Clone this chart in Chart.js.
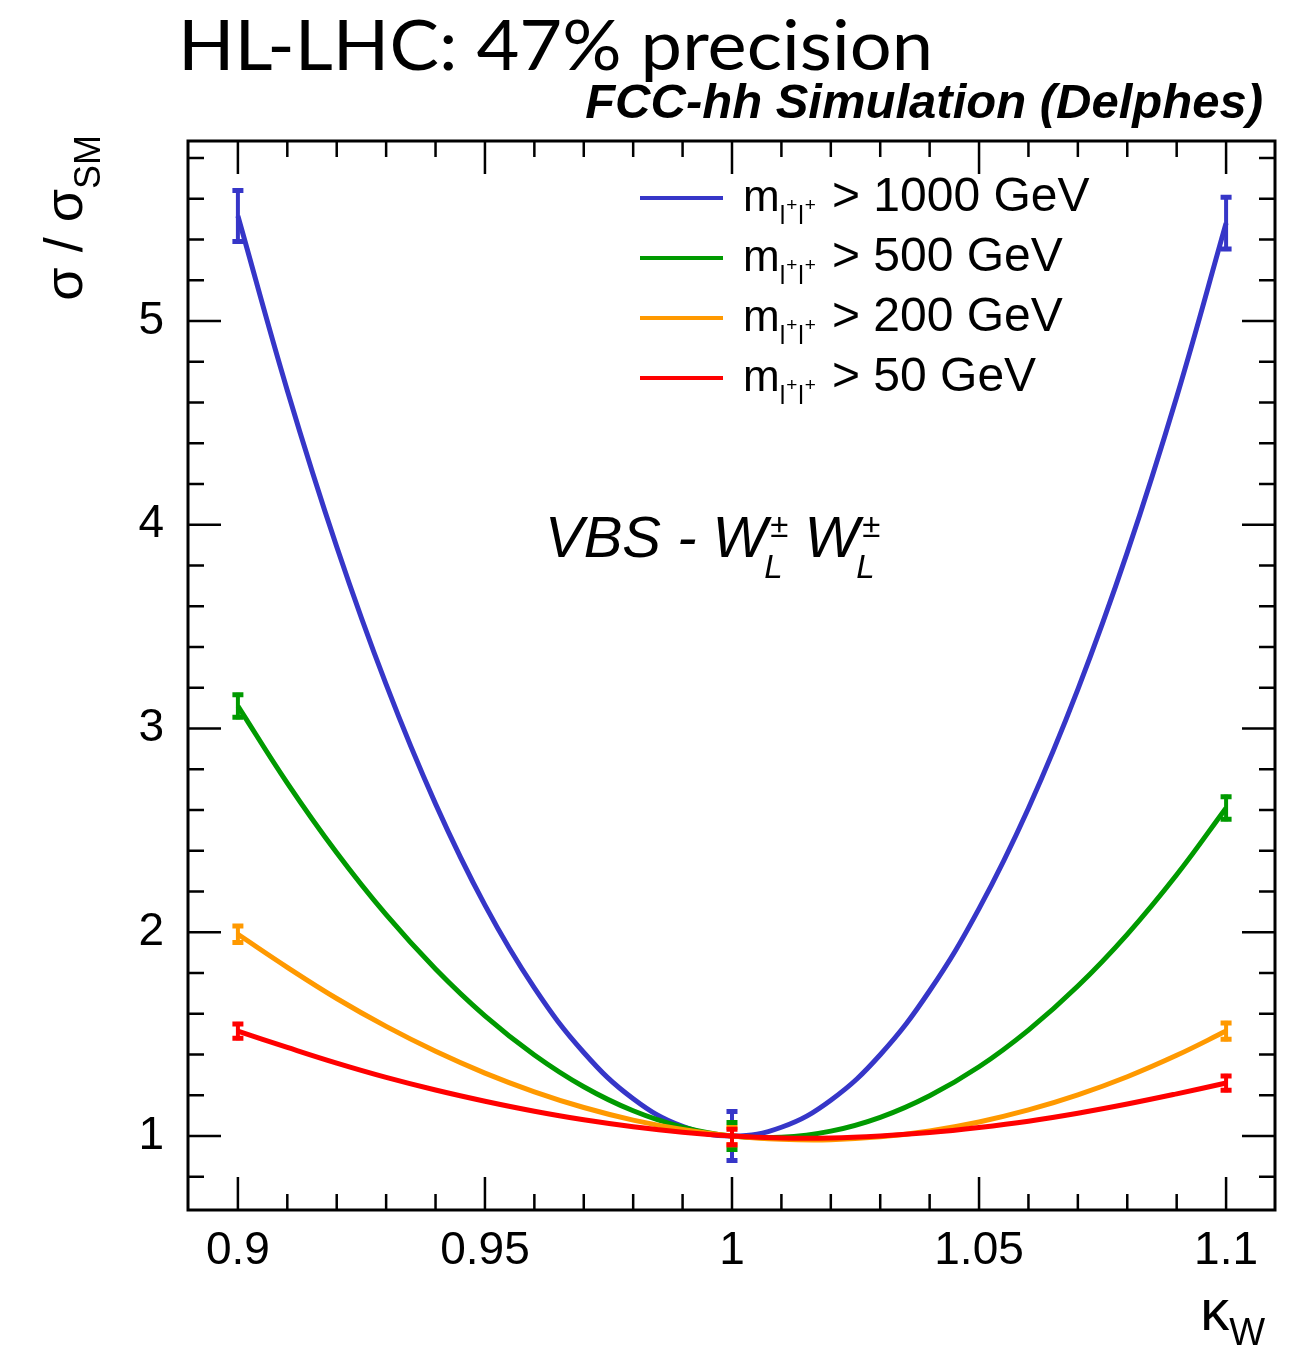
<!DOCTYPE html>
<html>
<head>
<meta charset="utf-8">
<script src="https://cdn.jsdelivr.net/npm/chart.js@4.4.0/dist/chart.umd.min.js"></script>
<style>
    html, body { margin: 0; padding: 0; background: #fff; }
    #wrap { width: 1296px; height: 1349px; }
</style>
</head>
<body>
<div id="wrap"><canvas id="kappaChart" width="1296" height="1349"></canvas></div>
<script>
// kappa_W sampling of the fitted curves
var kappaW = [0.90, 0.91, 0.92, 0.93, 0.94, 0.95, 0.96, 0.97, 0.98, 0.99, 1.00,
              1.01, 1.02, 1.03, 1.04, 1.05, 1.06, 1.07, 1.08, 1.09, 1.10];
var ratio1000 = [5.515, 4.659, 3.892, 3.216, 2.630, 2.133, 1.727, 1.410, 1.183, 1.047, 1.00,
                 1.043, 1.176, 1.399, 1.713, 2.116, 2.609, 3.192, 3.864, 4.627, 5.48];
var ratio500 = [3.11, 2.732, 2.390, 2.086, 1.820, 1.590, 1.398, 1.242, 1.124, 1.044, 1.00,
                0.994, 1.024, 1.092, 1.198, 1.340, 1.520, 1.736, 1.990, 2.282, 2.61];
var ratio200 = [1.99, 1.828, 1.675, 1.538, 1.416, 1.309, 1.217, 1.140, 1.078, 1.032, 1.00,
                0.984, 0.982, 0.996, 1.025, 1.069, 1.128, 1.202, 1.291, 1.396, 1.515];
var ratio50 = [1.515, 1.435, 1.358, 1.288, 1.226, 1.171, 1.122, 1.080, 1.046, 1.019, 1.00,
               0.990, 0.990, 1.000, 1.017, 1.042, 1.073, 1.112, 1.157, 1.207, 1.26];

// simulated points with uncertainties
var pointX = [0.9, 1.0, 1.1];
var point1000 = [5.515, 1.00, 5.48];
var unc1000 = [0.135, 0.13, 0.137];
var point500 = [3.11, 1.00, 2.61];
var unc500 = [0.065, 0.076, 0.065];
var point200 = [1.99, 1.00, 1.515];
var unc200 = [0.05, 0.052, 0.05];
var point50 = [1.515, 0.995, 1.26];
var unc50 = [0.045, 0.048, 0.045];

var xTickValues = [0.9, 0.95, 1.0, 1.05, 1.1];
var xTickLabels = ["0.9", "0.95", "1", "1.05", "1.1"];
var yTickValues = [1, 2, 3, 4, 5];
var yTickLabels = ["1", "2", "3", "4", "5"];

var legendCuts = ["> 1000 GeV", "> 500 GeV", "> 200 GeV", "> 50 GeV"];
var lineColors = ["#3636c8", "#009a00", "#ff9900", "#ff0000"];

var xMin = 0.8899, xMax = 1.1099;
var yMin = 0.637, yMax = 5.883;

var SANS = '"Liberation Sans", Arial, Helvetica, sans-serif';

function toPoints(ys) {
    return kappaW.map(function (k, i) { return { x: k, y: ys[i] }; });
}

function drawParts(ctx, parts, x, y, align) {
    var total = 0;
    parts.forEach(function (p) {
        ctx.font = p.font;
        p.w = ctx.measureText(p.t).width;
        total += p.w + (p.gap || 0);
    });
    var cx = align === "right" ? x - total : x;
    parts.forEach(function (p) {
        ctx.font = p.font;
        ctx.fillText(p.t, cx, y + (p.dy || 0));
        cx += p.w + (p.gap || 0);
    });
    return cx;
}

// W with stacked +- superscript and L subscript, returns the x after it
function drawWL(ctx, x, base) {
    var end = drawParts(ctx, [{ t: "W", font: "italic 58px " + SANS }], x, base, "left");
    ctx.font = "italic 33px " + SANS;
    ctx.fillText("\u00b1", end + 3, base - 20);
    ctx.fillText("L", end - 3, base + 21);
    return end + 3 + ctx.measureText("\u00b1").width;
}

var rootFrame = {
    id: "rootFrame",
    beforeDatasetsDraw: function (chart) {
        var ctx = chart.ctx, a = chart.chartArea;
        var x = chart.scales.x, y = chart.scales.y;
        ctx.save();
        ctx.strokeStyle = "#000";
        ctx.lineWidth = 2.5;
        ctx.beginPath();
        for (var i = 0; i <= 20; i++) {
            var px = x.getPixelForValue(0.9 + i * 0.01);
            var len = i % 5 === 0 ? 33 : 16;
            ctx.moveTo(px, a.bottom); ctx.lineTo(px, a.bottom - len);
            ctx.moveTo(px, a.top); ctx.lineTo(px, a.top + len);
        }
        for (var j = 4; j <= 29; j++) {
            var py = y.getPixelForValue(j * 0.2);
            var ylen = j % 5 === 0 ? 33 : 16;
            ctx.moveTo(a.left, py); ctx.lineTo(a.left + ylen, py);
            ctx.moveTo(a.right, py); ctx.lineTo(a.right - ylen, py);
        }
        ctx.stroke();
        ctx.lineWidth = 3;
        ctx.strokeRect(a.left, a.top, a.right - a.left, a.bottom - a.top);
        ctx.restore();
    },
    afterDatasetsDraw: function (chart) {
        var ctx = chart.ctx;
        var x = chart.scales.x, y = chart.scales.y;
        var sets = [[point1000, unc1000], [point500, unc500], [point200, unc200], [point50, unc50]];
        ctx.save();
        sets.forEach(function (s, n) {
            ctx.strokeStyle = lineColors[n];
            pointX.forEach(function (k, i) {
                var px = x.getPixelForValue(k);
                var top = y.getPixelForValue(s[0][i] + s[1][i]);
                var bot = y.getPixelForValue(s[0][i] - s[1][i]);
                ctx.lineWidth = 4;
                ctx.beginPath();
                ctx.moveTo(px, top); ctx.lineTo(px, bot);
                ctx.stroke();
                ctx.lineWidth = 5;
                ctx.beginPath();
                ctx.moveTo(px - 5.5, top + 2); ctx.lineTo(px + 5.5, top + 2);
                ctx.moveTo(px - 5.5, bot - 2); ctx.lineTo(px + 5.5, bot - 2);
                ctx.stroke();
            });
        });
        ctx.restore();
    },
    afterDraw: function (chart) {
        var ctx = chart.ctx;
        ctx.save();
        ctx.fillStyle = "#000";
        ctx.textBaseline = "alphabetic";

        // big title, squeezed to the width of the original
        var title = "HL-LHC: 47% precision";
        ctx.font = '69px Lato, "Open Sans", sans-serif';
        var tw = ctx.measureText(title).width;
        ctx.save();
        ctx.translate(178, 70);
        ctx.scale(755 / tw, 1);
        ctx.fillText(title, 0, 0);
        ctx.restore();

        ctx.font = "bold italic 49px " + SANS;
        ctx.textAlign = "right";
        ctx.fillText("FCC-hh Simulation (Delphes)", 1263, 118);
        ctx.textAlign = "left";

        // legend
        legendCuts.forEach(function (cut, i) {
            var ly = 198 + i * 60;
            ctx.strokeStyle = lineColors[i];
            ctx.lineWidth = 4;
            ctx.beginPath();
            ctx.moveTo(640, ly); ctx.lineTo(723, ly);
            ctx.stroke();
            drawParts(ctx, [
                { t: "m", font: "44px " + SANS },
                { t: "l", font: "25px " + SANS, dy: 13, gap: 1 },
                { t: "+", font: "19px " + SANS, dy: 0, gap: 1 },
                { t: "l", font: "25px " + SANS, dy: 13, gap: 1 },
                { t: "+", font: "19px " + SANS, dy: 0, gap: 16 },
                { t: cut, font: "48px " + SANS }
            ], 743, ly + 13, "left");
        });

        // process label
        var ex = drawParts(ctx, [{ t: "VBS - ", font: "italic 58px " + SANS }], 545, 557, "left");
        ex = drawWL(ctx, ex, 557);
        drawWL(ctx, ex + 16, 557);

        // x axis title
        drawParts(ctx, [
            { t: "\u03ba", font: "58px " + SANS },
            { t: "W", font: "38px " + SANS, dy: 15 }
        ], 1265, 1330, "right");

        // y axis title
        ctx.save();
        ctx.translate(82, 135);
        ctx.rotate(-Math.PI / 2);
        drawParts(ctx, [
            { t: "\u03c3 / \u03c3", font: "54px " + SANS },
            { t: "SM", font: "36px " + SANS, dy: 18 }
        ], 0, 0, "right");
        ctx.restore();

        ctx.restore();
    }
};

var lineSet = function (label, ys, color, order) {
    return {
        label: label,
        data: toPoints(ys),
        borderColor: color,
        backgroundColor: color,
        borderWidth: 5,
        pointRadius: 0,
        fill: false,
        tension: 0.4,
        order: order
    };
};

var kappaChart = new Chart(document.getElementById("kappaChart"), {
    type: "line",
    data: {
        datasets: [
            lineSet(legendCuts[0], ratio1000, lineColors[0], 3),
            lineSet(legendCuts[1], ratio500, lineColors[1], 2),
            lineSet(legendCuts[2], ratio200, lineColors[2], 1),
            lineSet(legendCuts[3], ratio50, lineColors[3], 0)
        ]
    },
    options: {
        responsive: false,
        animation: false,
        devicePixelRatio: 1,
        layout: { padding: { top: 141, right: 21, bottom: 0, left: 0 } },
        plugins: {
            legend: { display: false },
            tooltip: { enabled: false }
        },
        scales: {
            x: {
                type: "linear",
                min: xMin,
                max: xMax,
                grid: { display: false, drawTicks: false },
                border: { display: false },
                afterBuildTicks: function (axis) {
                    axis.ticks = xTickValues.map(function (v) { return { value: v }; });
                },
                afterFit: function (axis) { axis.height = 139; },
                ticks: {
                    autoSkip: false,
                    maxRotation: 0,
                    padding: 14,
                    color: "#000",
                    font: { family: SANS, size: 46 },
                    callback: function (v, i) { return xTickLabels[i]; }
                }
            },
            y: {
                type: "linear",
                min: yMin,
                max: yMax,
                grid: { display: false, drawTicks: false },
                border: { display: false },
                afterBuildTicks: function (axis) {
                    axis.ticks = yTickValues.map(function (v) { return { value: v }; });
                },
                afterFit: function (axis) { axis.width = 188; },
                ticks: {
                    autoSkip: false,
                    padding: 24,
                    color: "#000",
                    font: { family: SANS, size: 46 },
                    callback: function (v, i) { return yTickLabels[i]; }
                }
            }
        }
    },
    plugins: [rootFrame]
});
</script>
</body>
</html>
